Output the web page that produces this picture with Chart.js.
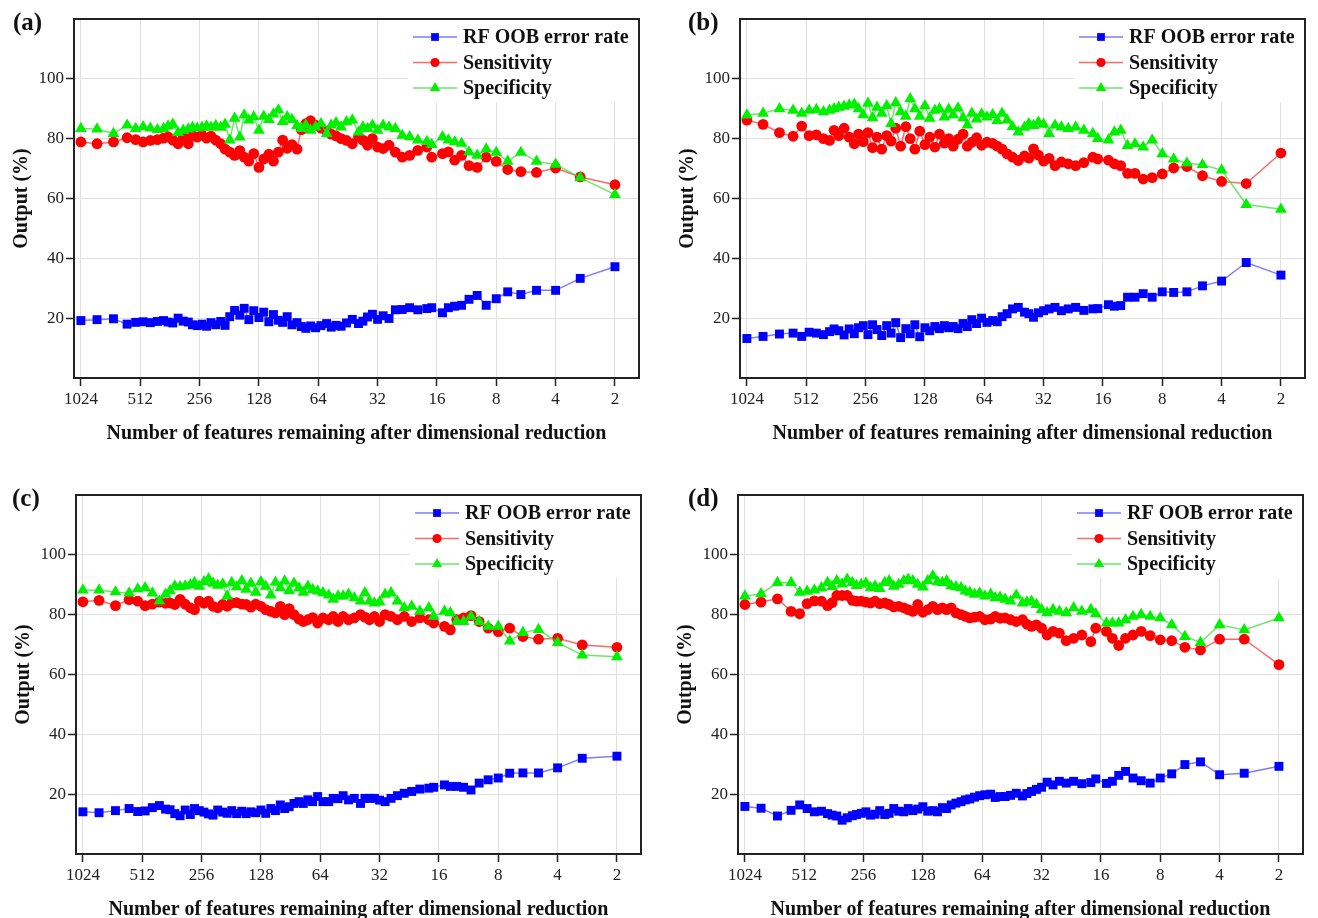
<!DOCTYPE html>
<html>
<head>
<meta charset="utf-8">
<script src="https://cdn.jsdelivr.net/npm/chart.js@4.4.1/dist/chart.umd.min.js"></script>
<style>
  html, body { margin: 0; padding: 0; background: #fff; }
  body { width: 1318px; height: 918px; overflow: hidden; position: relative; }
  .panel { position: absolute; width: 659px; height: 459px; }
  .tag { position: absolute; font: bold 25px 'Times New Roman', 'Liberation Serif', serif; color: #111; line-height: 25px; }
</style>
</head>
<body>
<div class="panel" style="left:0px;top:0px"><canvas id="chartA" width="659" height="459"></canvas></div>
<div class="panel" style="left:666px;top:0px"><canvas id="chartB" width="659" height="459"></canvas></div>
<div class="panel" style="left:2px;top:476px"><canvas id="chartC" width="659" height="459"></canvas></div>
<div class="panel" style="left:664px;top:476px"><canvas id="chartD" width="659" height="459"></canvas></div>
<div class="tag" style="left:13px;top:9px">(a)</div>
<div class="tag" style="left:688px;top:9px">(b)</div>
<div class="tag" style="left:12px;top:485px">(c)</div>
<div class="tag" style="left:688px;top:485px">(d)</div>
<script>
// number of features left at each step (shared by the four runs)
const features = [1024, 848, 700, 597, 540, 495, 455, 419, 390, 370, 350, 329, 310, 292, 278,
  263, 249, 236, 224, 212, 200, 190, 180, 170, 160, 152, 144, 136, 128, 121, 114, 108, 102,
  97, 92, 87, 82, 78, 74, 70, 66, 62, 58, 55, 52, 49, 46, 43, 40, 38, 36, 34, 32, 30, 28,
  26, 24, 22, 20, 18, 17, 15, 14, 13, 12, 11, 10, 9, 8, 7, 6, 5, 4, 3, 2];

const xTickValues = [1024, 512, 256, 128, 64, 32, 16, 8, 4, 2];
const yTickValues = [20, 40, 60, 80, 100];
const seriesLabels = ['RF OOB error rate', 'Sensitivity', 'Specificity'];

// (a)
const errA = [19.2, 19.5, 19.8, 18, 18.6, 18.8, 18.5, 18.9, 19.2, 18.7,
  18.4, 20, 19, 18.7, 17.8, 17.5, 18, 17.3, 18.5, 17.8,
  18.9, 17.6, 20.5, 22.6, 21, 23.3, 19.5, 22.5, 20.2, 22,
  18.8, 21.2, 19.3, 18.6, 20.5, 17.8, 18.5, 17.2, 16.6, 17.4,
  16.8, 17.5, 18.2, 17, 17.6, 17.3, 18.4, 19.6, 18.2, 19,
  20.4, 21.3, 19.6, 20.8, 19.9, 22.8, 22.9, 23.5, 22.8, 23.2,
  23.5, 21.8, 23.5, 24, 24.3, 26.3, 27.6, 24.3, 26.5, 28.8,
  27.9, 29.3, 29.3, 33.3, 37.2];
const sensA = [78.9, 78.3, 78.9, 80.3, 79.7, 78.9, 79.4, 79.7, 80.2, 80.6,
  79.5, 78.3, 80.5, 78.3, 81, 80.5, 81.2, 80.2, 80.8, 79.5,
  78.3, 76.5, 75.5, 74.4, 76, 73.8, 72.5, 75, 70.4, 73.2,
  74.8, 72.5, 75.5, 79.5, 76.8, 78, 76.5, 83, 85, 86,
  84.5, 83.5, 82.5, 81.5, 80.9, 80, 79.4, 78.3, 80.6, 79.5,
  77.8, 80, 77.2, 76.7, 77.8, 75.5, 73.8, 74.4, 76.1, 77.2,
  73.8, 75, 75.6, 72.8, 74.4, 71, 70.4, 73.8, 72.4, 69.7,
  69, 68.7, 70.2, 67.2, 64.6];
const specA = [83.4, 83.2, 81.7, 84.5, 83.4, 84, 83.5, 83, 83.4, 84.2,
  84.8, 82, 82.8, 83.2, 83.8, 83.5, 83.8, 84.2, 83.8, 84.4,
  83.8, 84.8, 79.5, 86.8, 80.5, 87.9, 86.2, 87.3, 82.8, 87.5,
  86.4, 88.2, 89.6, 85.7, 87.3, 86.4, 84.4, 83.4, 84.5, 82.8,
  83.9, 85, 81.7, 84.5, 85.3, 83.9, 85.6, 86.2, 82.2, 83.9,
  83.4, 84.5, 82.8, 84.5, 83.9, 83.4, 81.1, 80.6, 79.5, 79,
  78, 80.6, 79.5, 78.9, 78.4, 75.5, 74.4, 76.5, 75.4, 72.4,
  75.4, 72.4, 71.4, 67, 61.3];

// (b)
const errB = [13.2, 13.9, 14.7, 15, 13.9, 15.3, 15, 14.5, 15.5, 16.4,
  15.8, 14.4, 16.4, 14.8, 16.8, 17.5, 14.5, 17.8, 16.2, 14.2,
  17.5, 15, 18.5, 13.5, 16.5, 14.8, 17.8, 13.8, 16.8, 15.8,
  17.2, 16.5, 17.5, 16.8, 17.2, 16.5, 18.2, 17.2, 19.5, 18.2,
  20, 18.6, 19.2, 18.8, 20.5, 21.5, 23.1, 23.6, 22, 21.5,
  20.3, 21.8, 22.5, 23.1, 23.6, 22.5, 23.1, 23.6, 22.6, 23.1,
  23.2, 24.5, 24, 24.2, 27, 27, 28.2, 27, 28.8, 28.6,
  28.8, 30.8, 32.4, 38.6, 34.4];
const sensB = [86.2, 84.8, 82, 80.8, 84.2, 81, 81.3, 80, 79.4, 82.8,
  81, 83.5, 80.5, 78.3, 81.5, 79, 82, 77, 80.5, 76.5,
  81, 79.2, 83.5, 77.5, 84, 80, 76.5, 82.5, 78, 80.5,
  77.2, 81.5, 78.5, 80, 77.5, 79.8, 81.5, 77.5, 78.8, 80.3,
  77.8, 78.8, 78.4, 77.5, 76.5, 74.9, 73.8, 72.7, 74.2, 73.5,
  76.6, 74.5, 72.5, 73.4, 71, 72.2, 71.6, 71, 72, 73.8,
  73.2, 72.8, 71.6, 71, 68.4, 68.4, 66.5, 67, 68.2, 70.2,
  70.7, 67.6, 65.7, 65, 75.2];
const specB = [87.9, 88.5, 90, 89.5, 88.5, 89.5, 89.7, 89, 89.5, 90,
  90.5, 90.8, 91.2, 91.5, 90, 88, 91.8, 87, 90.5, 88.5,
  91, 85, 92, 89, 87.5, 93.3, 90, 87.5, 91, 86.8,
  89.5, 90, 87.2, 89.8, 88, 90.2, 87, 84.5, 88.5, 86.5,
  88.2, 87.2, 88, 86, 88.5, 86.2, 84, 82.2, 83.8, 85,
  84.4, 85.5, 84.8, 81.7, 84.5, 83.9, 83.4, 83.9, 82.8, 81.7,
  80, 79.5, 82.2, 82.8, 77.7, 78.3, 77.2, 79.5, 74.9, 73.2,
  71.8, 71.3, 69.5, 58, 56.4];

// (c)
const errC = [14.1, 13.8, 14.5, 15.2, 14.2, 14.4, 15.5, 16.2, 15, 14.8,
  13.5, 12.8, 14.7, 13.2, 15.2, 14.5, 14, 13.4, 13, 14.7,
  14, 13.6, 14.5, 13.5, 14.3, 13.5, 14.1, 13.8, 14.7, 13.6,
  15.2, 14.5, 16.4, 15.2, 15.8, 16.9, 17.5, 16.9, 18.1, 17.5,
  19.2, 17.5, 17.5, 18.6, 18.5, 19.5, 18.1, 18.6, 16.9, 18.6,
  18.6, 18.6, 18, 17.5, 18.6, 19.5, 20.3, 20.9, 21.7, 22,
  22.3, 23.1, 22.6, 22.6, 22.3, 21.4, 23.7, 24.8, 25.4, 27,
  27.1, 27.1, 28.8, 32, 32.7];
const sensC = [84.3, 84.8, 83, 85, 84.5, 83, 83.5, 84.2, 83.8, 83.9,
  83.4, 85.1, 83.5, 82.3, 81.7, 84.5, 83.8, 84.5, 82.8, 82.3,
  83.4, 82.8, 83.9, 84, 83.5, 83.4, 82.5, 83.5, 82.8, 81.7,
  81.1, 80.6, 82.8, 80, 82, 80, 78.5, 77.7, 78.3, 79,
  77.2, 78.9, 78.3, 79.4, 77.7, 79.4, 78.3, 78.9, 80, 79.2,
  78.3, 79.4, 77.7, 80, 79.4, 78.3, 79.4, 77.7, 78.9, 78.3,
  77.2, 76.1, 74.9, 78.3, 78.9, 79.7, 77.7, 75.5, 74.3, 75.5,
  72.7, 71.8, 72.1, 69.9, 69.1];
const specC = [88.2, 88.2, 87.6, 87.2, 88.6, 89, 87.2, 84.5, 86.8, 88,
  89.6, 89.3, 89.6, 90, 90.7, 89.5, 91, 92, 90.5, 89.8,
  90.2, 86.2, 90.7, 89.3, 91.3, 88.5, 90.5, 87.5, 91, 89.5,
  86.5, 90.8, 89, 91.2, 88, 90.5, 88.9, 87.5, 89.5, 88.4,
  87.9, 87.3, 86.5, 85.1, 86.2, 86.2, 86.8, 85.6, 84.5, 87.3,
  84.5, 83.9, 84.2, 86.8, 87.3, 84.5, 82.3, 82.8, 81.1, 82.3,
  79.4, 81.1, 80.6, 77.7, 77.7, 79.4, 77.7, 76.1, 76.1, 71.2,
  74, 75, 70.7, 66.5, 65.9];

// (d)
const errD = [15.9, 15.3, 12.7, 14.6, 16.4, 15.2, 14.1, 14.3, 13.5, 13,
  12.7, 11.3, 12.1, 12.8, 13.2, 13.6, 14.1, 13, 13.3, 14.5,
  13.2, 13.6, 15.2, 14.3, 14.1, 15.2, 14.5, 15, 15.8, 14.3,
  14.5, 14.1, 15.5, 15.2, 16.4, 17, 17.5, 18.1, 18.4, 19,
  19.5, 19.8, 20, 18.9, 19.2, 19.2, 19.6, 20.3, 19.4, 20.2,
  20.9, 21.6, 22.3, 24, 23.1, 24.3, 23.7, 24.3, 23.5, 23.9,
  25.1, 23.6, 24.3, 26.3, 27.6, 25.4, 24.5, 23.7, 25.4, 26.8,
  29.9, 30.8, 26.5, 27, 29.3];
const sensD = [83.4, 84.2, 85.3, 81.1, 80.3, 83.7, 84.6, 84.5, 83, 84,
  86.4, 86.4, 86.4, 84.8, 84.5, 84.5, 84.2, 83.9, 84.5, 83.7,
  83.9, 83.4, 82.6, 82.8, 82.3, 81.7, 81.1, 83.4, 80.8, 81.7,
  82.8, 81.7, 82.3, 81.7, 82.3, 80.6, 80, 79.4, 78.9, 79.2,
  79.4, 78.3, 78.5, 79.4, 78.8, 78.9, 78.3, 77.7, 78.3, 76.8,
  76.1, 76.6, 75.5, 73.2, 74.4, 73.8, 71.3, 72.1, 73.2, 71,
  75.5, 74.4, 72.1, 69.7, 72.1, 73.2, 74.4, 73, 71.6, 71.3,
  69.1, 68.2, 71.8, 71.8, 63.3];
const specD = [86.2, 87, 90.7, 90.7, 87.5, 87.8, 88.2, 89, 90.7, 89.4,
  91.3, 90.2, 91.8, 90.7, 89.7, 90.1, 90.6, 89, 89.6, 88.7,
  90.7, 91.3, 89.5, 90.1, 91.3, 91.8, 91.3, 90.1, 89.2, 91.3,
  93, 91, 90.7, 91.3, 89.6, 89.3, 89, 87.9, 87.5, 86.8,
  87.2, 86.2, 86.8, 85.6, 85.8, 85.1, 84.5, 86.5, 83.9, 84.2,
  84.5, 83.4, 81.7, 80.6, 81.7, 81.1, 80.6, 82.3, 81.1, 81.7,
  80.3, 77.2, 77.2, 77.2, 78.3, 79.4, 80, 79.4, 78.9, 76.6,
  72.7, 70.7, 76.6, 74.9, 78.9];

const pointColors = ['#0000ff', '#ff0000', '#00f000'];
const lineColors = ['rgba(70,70,255,0.7)', 'rgba(240,60,60,0.75)', 'rgba(60,220,60,0.75)'];
const pointStyles = ['rect', 'circle', 'triangle'];
const pointSizes = [6.3, 5.4, 6.8];
const serif = "'Times New Roman', 'Liberation Serif', serif";

const framePlugin = {
  id: 'frame',
  afterDraw(chart) {
    const { ctx, chartArea: a } = chart;
    ctx.save();
    ctx.strokeStyle = '#222';
    ctx.lineWidth = 2;
    ctx.strokeRect(a.left, a.top, a.right - a.left, a.bottom - a.top);
    ctx.restore();
  }
};

// legend drawn inside the plot, top right corner
function drawMarker(ctx, style, x, y, r) {
  ctx.beginPath();
  if (style === 'rect') {
    const s = r * Math.SQRT1_2;
    ctx.rect(x - s, y - s, 2 * s, 2 * s);
  } else if (style === 'circle') {
    ctx.arc(x, y, r, 0, Math.PI * 2);
  } else {
    ctx.moveTo(x, y - r);
    ctx.lineTo(x + r * 0.866, y + r * 0.5);
    ctx.lineTo(x - r * 0.866, y + r * 0.5);
    ctx.closePath();
  }
  ctx.fill();
}

const insideLegend = {
  id: 'insideLegend',
  afterDatasetsDraw(chart) {
    const { ctx, chartArea: a } = chart;
    ctx.save();
    ctx.fillStyle = '#fff';
    ctx.fillRect(a.right - 231, a.top + 1, 230, 82);
    seriesLabels.forEach((label, i) => {
      const y = a.top + 18 + i * 25.5;
      ctx.strokeStyle = lineColors[i];
      ctx.lineWidth = 1.5;
      ctx.beginPath();
      ctx.moveTo(a.right - 226, y);
      ctx.lineTo(a.right - 182, y);
      ctx.stroke();
      ctx.fillStyle = pointColors[i];
      drawMarker(ctx, pointStyles[i], a.right - 204, y, pointSizes[i] - 0.8);
      ctx.fillStyle = '#111';
      ctx.font = 'bold 20px ' + serif;
      ctx.textBaseline = 'middle';
      ctx.fillText(label, a.right - 176, y + 1);
    });
    ctx.restore();
  }
};

function toPoints(values) {
  return features.map((f, i) => ({ x: f, y: values[i] }));
}

function makePanel(id, err, sens, spec) {
  const series = [err, sens, spec];
  const drawOrder = [2, 1, 0];
  const datasets = series.map((vals, i) => ({
    label: seriesLabels[i],
    data: toPoints(vals),
    borderColor: lineColors[i],
    backgroundColor: pointColors[i],
    pointBackgroundColor: pointColors[i],
    pointBorderColor: pointColors[i],
    pointBorderWidth: 0,
    pointStyle: pointStyles[i],
    pointRadius: pointSizes[i],
    borderWidth: 1.5,
    order: drawOrder[i]
  }));

  const gridOpts = { color: '#e0e0e0', lineWidth: 1, tickColor: '#222', tickLength: 8, tickWidth: 1.5 };

  new Chart(document.getElementById(id), {
    type: 'line',
    data: { datasets },
    options: {
      responsive: false,
      animation: false,
      layout: { padding: { top: 19, right: 20, left: 0, bottom: 0 }, autoPadding: false },
      plugins: { legend: { display: false }, tooltip: { enabled: false } },
      scales: {
        x: {
          type: 'logarithmic',
          reverse: true,
          min: 1.51,
          max: 1110,
          afterBuildTicks: (s) => { s.ticks = xTickValues.map(v => ({ value: v })); },
          afterFit: (s) => { s.height = 81; },
          ticks: {
            autoSkip: false, maxRotation: 0, padding: 3, color: '#222',
            font: { family: serif, size: 17 },
            callback: (v) => String(v)
          },
          grid: gridOpts,
          border: { display: false },
          title: {
            display: true,
            text: 'Number of features remaining after dimensional reduction',
            color: '#111',
            font: { family: serif, size: 20, weight: 'bold' },
            padding: { top: 0, bottom: 13 }
          }
        },
        y: {
          min: 0,
          max: 120,
          afterBuildTicks: (s) => { s.ticks = yTickValues.map(v => ({ value: v })); },
          afterFit: (s) => { s.width = 74; },
          ticks: { padding: 2, color: '#222', font: { family: serif, size: 17 } },
          grid: gridOpts,
          border: { display: false },
          title: {
            display: true,
            text: 'Output (%)',
            color: '#111',
            font: { family: serif, size: 20, weight: 'bold' },
            padding: { top: 10, bottom: 0 }
          }
        }
      }
    },
    plugins: [insideLegend, framePlugin]
  });
}

makePanel('chartA', errA, sensA, specA);
makePanel('chartB', errB, sensB, specB);
makePanel('chartC', errC, sensC, specC);
makePanel('chartD', errD, sensD, specD);
</script>
</body>
</html>
